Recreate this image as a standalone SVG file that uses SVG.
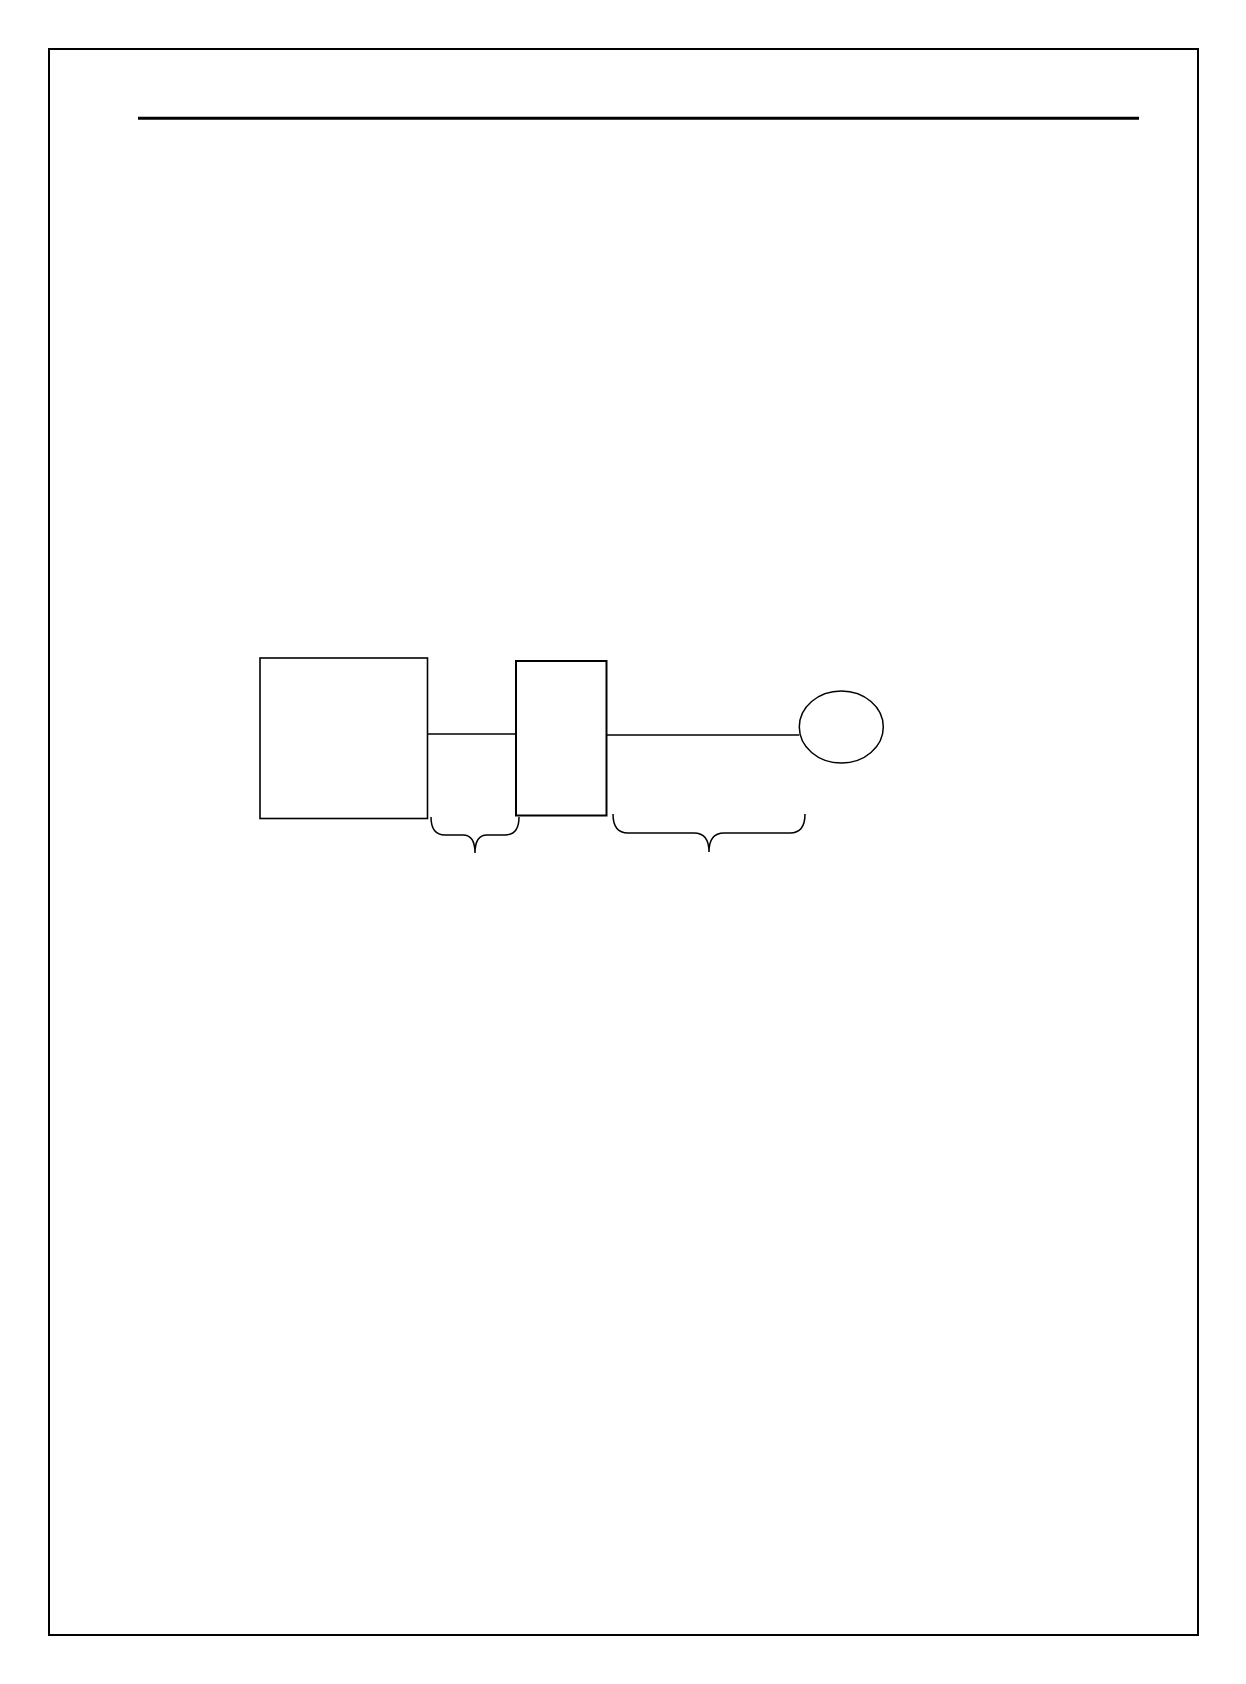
<svg xmlns="http://www.w3.org/2000/svg" width="1246" height="1684" viewBox="0 0 1246 1684">
<style>
.sh{fill:none;stroke:#000}
.br{fill:none;stroke:#000;stroke-width:1.5}
</style>
<rect width="1246" height="1684" fill="#fff"/>
<g id="frame">
<rect class="sh" x="49" y="49" width="1149" height="1586" stroke-width="2"/>
<line x1="138" y1="118.3" x2="1139" y2="118.3" stroke="#000" stroke-width="3"/>
</g>
<g id="node-big">
<rect class="sh" x="260" y="658" width="167.5" height="160.5" stroke-width="1.6"/>
</g>
<g id="node-small">
<rect class="sh" x="516" y="661" width="90.5" height="154.5" stroke-width="2"/>
</g>
<g id="node-circle">
<ellipse class="sh" cx="841.3" cy="727" rx="42" ry="36" stroke-width="1.5"/>
</g>
<g id="connectors">
<line x1="427.5" y1="734" x2="516" y2="734" stroke="#000" stroke-width="1.5"/>
<line x1="606.5" y1="735" x2="799.3" y2="735" stroke="#000" stroke-width="1.5"/>
</g>
<g id="braces">
<path class="br" d="M431,817 Q431,835 445,835 L463,835 Q475,835 475,853 Q475,835 487,835 L505,835 Q519,835 519,817"/>
<path class="br" d="M613,814 Q613,833 628,833 L694,833 Q709,833 709,852 Q709,833 724,833 L790,833 Q805,833 805,814"/>
</g>
</svg>
